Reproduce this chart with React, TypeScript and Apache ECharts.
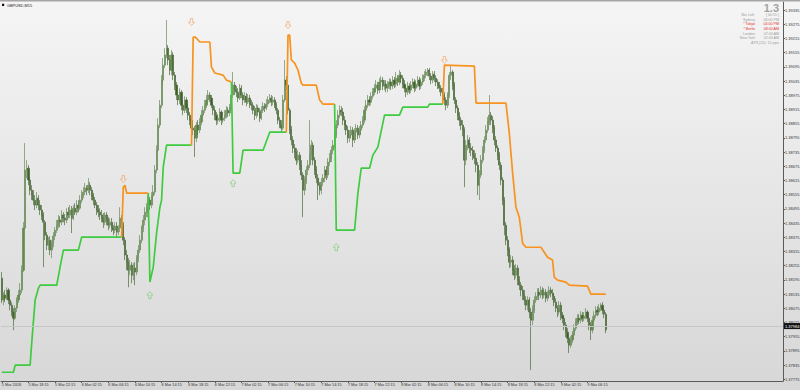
import React, { useEffect, useRef } from "react";
import * as echarts from "echarts";

// ---------- data ----------
const symbolTitle = "GBPUSD,M15";
const firstOpen = 1.38202;

const closes = [
  1.38110, 1.38131, 1.38118, 1.38152, 1.38110, 1.38088,
  1.38059, 1.38033, 1.38076, 1.38110, 1.38131, 1.38152,
  1.38236, 1.38414, 1.38659, 1.38667, 1.38617, 1.38574, 1.38553, 1.38532, 1.38511, 1.38540, 1.38511, 1.38490, 1.38469, 1.38439,
  1.38384, 1.38342, 1.38363, 1.38321, 1.38350, 1.38380,
  1.38405, 1.38426, 1.38448, 1.38439, 1.38469, 1.38456, 1.38448, 1.38481,
  1.38469, 1.38490, 1.38456, 1.38498, 1.38481, 1.38511, 1.38498, 1.38532,
  1.38553, 1.38566, 1.38583, 1.38574, 1.38595, 1.38574, 1.38549,
  1.38532, 1.38511, 1.38490, 1.38481, 1.38469,
  1.38456, 1.38439, 1.38469, 1.38448, 1.38426, 1.38439, 1.38414,
  1.38405, 1.38422, 1.38397, 1.38414, 1.38456, 1.38426,
  1.38363, 1.38300, 1.38270, 1.38236, 1.38257, 1.38215, 1.38245, 1.38228, 1.38287,
  1.38321, 1.38363, 1.38414, 1.38448, 1.38481, 1.38498,
  1.38532, 1.38511, 1.38549, 1.38566,
  1.38659, 1.38743, 1.38849, 1.38933,
  1.39039, 1.39102, 1.39145, 1.39174,
  1.39124, 1.39081, 1.39145, 1.39060,
  1.39018, 1.38976, 1.38955, 1.38988, 1.38933, 1.38912, 1.38955, 1.38921,
  1.38891, 1.38870, 1.38836, 1.38828, 1.38794, 1.38849, 1.38828, 1.38862,
  1.38891, 1.38912, 1.38933, 1.38955, 1.38976, 1.38963, 1.38933, 1.38912,
  1.38891, 1.38870, 1.38878, 1.38904, 1.38870, 1.38878, 1.38891, 1.38912, 1.38900, 1.38921,
  1.38976, 1.39018, 1.38997,
  1.38988, 1.38963, 1.39005, 1.38976, 1.38955, 1.38971, 1.38946, 1.38963, 1.38938,
  1.38933, 1.38912, 1.38891, 1.38921, 1.38904, 1.38878, 1.38912, 1.38929, 1.38921, 1.38938, 1.38955, 1.38963, 1.38946, 1.38955, 1.38933, 1.38912,
  1.38870, 1.38849, 1.38836,
  1.38955, 1.39039, 1.39018,
  1.38912, 1.38828, 1.38786, 1.38752,
  1.38735, 1.38701, 1.38722, 1.38680, 1.38638, 1.38574,
  1.38617, 1.38659, 1.38680, 1.38722, 1.38764,
  1.38701, 1.38659, 1.38625, 1.38595, 1.38574, 1.38608,
  1.38625, 1.38659, 1.38638, 1.38693, 1.38709, 1.38743, 1.38764,
  1.38807, 1.38849, 1.38891, 1.38912,
  1.38904, 1.38870, 1.38849, 1.38828, 1.38794, 1.38807, 1.38828, 1.38786,
  1.38819, 1.38836, 1.38807, 1.38828, 1.38849, 1.38870,
  1.38912, 1.38933, 1.38955, 1.38946, 1.38971, 1.38988,
  1.39005, 1.39018, 1.38997, 1.39031, 1.39039, 1.39014, 1.39022, 1.39005,
  1.39018, 1.39031, 1.39014, 1.39039, 1.39022, 1.39047, 1.39031, 1.39060, 1.39047, 1.39022,
  1.39005, 1.38988, 1.39014, 1.38997, 1.39018, 1.39031, 1.39005, 1.39022, 1.39039, 1.39014,
  1.39031, 1.39047, 1.39060, 1.39073, 1.39081, 1.39056, 1.39039, 1.39064, 1.39047, 1.39031, 1.39018, 1.39005,
  1.38988, 1.38976, 1.38955,
  1.38933, 1.38976, 1.39060,
  1.39073, 1.39018,
  1.38955, 1.38921, 1.38891, 1.38870, 1.38849, 1.38828,
  1.38701, 1.38764, 1.38786, 1.38752, 1.38743, 1.38722, 1.38709, 1.38680,
  1.38595, 1.38638,
  1.38701, 1.38743, 1.38786, 1.38828, 1.38862, 1.38891, 1.38870, 1.38836,
  1.38786, 1.38752, 1.38722, 1.38680,
  1.38617, 1.38532, 1.38426,
  1.38363, 1.38321, 1.38270,
  1.38279, 1.38236, 1.38215, 1.38245, 1.38194, 1.38173,
  1.38152, 1.38131, 1.38110, 1.38088, 1.38110, 1.38059,
  1.38025, 1.38067,
  1.38110, 1.38126, 1.38143, 1.38131,
  1.38152, 1.38131, 1.38143, 1.38118, 1.38131, 1.38152, 1.38139, 1.38126,
  1.38101, 1.38076, 1.38059, 1.38088, 1.38046, 1.38033,
  1.38004, 1.37974, 1.37949, 1.37919, 1.37941, 1.37962,
  1.37991, 1.38017, 1.38033, 1.38025, 1.38046, 1.38033,
  1.38042, 1.38059, 1.38033, 1.38004, 1.37983, 1.38025,
  1.38046, 1.38067, 1.38059, 1.38076, 1.38088, 1.38067, 1.38050,
  1.37984,
];

const highs = [
  1.38228, 1.38143, 1.38152, 1.38164, 1.38160, 1.38122,
  1.38101, 1.38076, 1.38088, 1.38122, 1.38152, 1.38181,
  1.38257, 1.38439, 1.38773, 1.38701, 1.38680, 1.38629, 1.38595, 1.38574, 1.38553, 1.38566, 1.38553, 1.38532, 1.38511, 1.38481,
  1.38448, 1.38397, 1.38376, 1.38380, 1.38363, 1.38397,
  1.38418, 1.38448, 1.38469, 1.38464, 1.38490, 1.38481, 1.38473, 1.38498,
  1.38502, 1.38511, 1.38507, 1.38511, 1.38519, 1.38532, 1.38532, 1.38553,
  1.38574, 1.38587, 1.38604, 1.38595, 1.38625, 1.38608, 1.38587,
  1.38562, 1.38545, 1.38524, 1.38511, 1.38498,
  1.38490, 1.38477, 1.38481, 1.38481, 1.38460, 1.38456, 1.38456,
  1.38426, 1.38439, 1.38439, 1.38426, 1.38502, 1.38469,
  1.38439, 1.38376, 1.38321, 1.38287, 1.38279, 1.38270, 1.38266, 1.38270, 1.38300,
  1.38342, 1.38384, 1.38426, 1.38469, 1.38502, 1.38519,
  1.38553, 1.38545, 1.38566, 1.38595,
  1.38680, 1.38764, 1.38878, 1.38955,
  1.39060, 1.39132, 1.39174, 1.39293,
  1.39187, 1.39145, 1.39166, 1.39157,
  1.39073, 1.39031, 1.38997, 1.39005, 1.38997, 1.38955, 1.38971, 1.38967,
  1.38938, 1.38904, 1.38883, 1.38853, 1.38845, 1.38862, 1.38870, 1.38878,
  1.38912, 1.38929, 1.38955, 1.38976, 1.38997, 1.38988, 1.38976, 1.38946,
  1.38929, 1.38904, 1.38895, 1.38921, 1.38912, 1.38895, 1.38912, 1.38929, 1.38925, 1.38938,
  1.38997, 1.39073, 1.39031,
  1.39014, 1.39005, 1.39022, 1.39018, 1.38988, 1.38988, 1.38984, 1.38980, 1.38976,
  1.38955, 1.38946, 1.38929, 1.38938, 1.38933, 1.38921, 1.38929, 1.38946, 1.38942, 1.38959, 1.38971, 1.38980, 1.38976, 1.38971, 1.38967, 1.38946,
  1.38921, 1.38883, 1.38870,
  1.38976, 1.39124, 1.39056,
  1.39031, 1.38921, 1.38845, 1.38802,
  1.38769, 1.38752, 1.38743, 1.38735, 1.38701, 1.38650,
  1.38633, 1.38676, 1.38701, 1.38870, 1.38786,
  1.38777, 1.38714, 1.38676, 1.38642, 1.38608, 1.38625,
  1.38642, 1.38676, 1.38676, 1.38709, 1.38731, 1.38760, 1.38786,
  1.38828, 1.38870, 1.38912, 1.38933,
  1.38929, 1.38921, 1.38887, 1.38866, 1.38845, 1.38828, 1.38845, 1.38840,
  1.38836, 1.38853, 1.38849, 1.38845, 1.38866, 1.38887,
  1.38929, 1.38955, 1.38976, 1.38971, 1.38988, 1.39005,
  1.39022, 1.39039, 1.39031, 1.39047, 1.39056, 1.39052, 1.39039, 1.39039,
  1.39035, 1.39047, 1.39043, 1.39056, 1.39052, 1.39073, 1.39060, 1.39081, 1.39073, 1.39060,
  1.39039, 1.39018, 1.39031, 1.39026, 1.39035, 1.39047, 1.39043, 1.39039, 1.39056, 1.39052,
  1.39047, 1.39064, 1.39077, 1.39086, 1.39090, 1.39090, 1.39069, 1.39077, 1.39077, 1.39060, 1.39043, 1.39031,
  1.39018, 1.39005, 1.38988,
  1.38967, 1.38988, 1.39073,
  1.39102, 1.39081,
  1.39031, 1.38967, 1.38933, 1.38904, 1.38883, 1.38870,
  1.38840, 1.38786, 1.38807, 1.38798, 1.38773, 1.38760, 1.38743, 1.38731,
  1.38693, 1.38659,
  1.38722, 1.38760, 1.38802, 1.38849, 1.38883, 1.38976, 1.38904, 1.38887,
  1.38849, 1.38802, 1.38764, 1.38735,
  1.38693, 1.38629, 1.38545,
  1.38439, 1.38380, 1.38333,
  1.38300, 1.38295, 1.38257, 1.38262, 1.38257, 1.38211,
  1.38186, 1.38169, 1.38152, 1.38126, 1.38126, 1.38122,
  1.38076, 1.38088,
  1.38126, 1.38143, 1.38160, 1.38160,
  1.38169, 1.38164, 1.38160, 1.38156, 1.38148, 1.38169, 1.38164, 1.38156,
  1.38139, 1.38118, 1.38088, 1.38105, 1.38101, 1.38059,
  1.38046, 1.38017, 1.37991, 1.37962, 1.37957, 1.37979,
  1.38008, 1.38033, 1.38050, 1.38050, 1.38063, 1.38059,
  1.38059, 1.38076, 1.38067, 1.38046, 1.38017, 1.38042,
  1.38063, 1.38084, 1.38084, 1.38093, 1.38097, 1.38101, 1.38080,
  1.38059,
];

const lows = [
  1.38097, 1.38088, 1.38101, 1.38110, 1.38093, 1.38067,
  1.38042, 1.37983, 1.38025, 1.38059, 1.38097, 1.38118,
  1.38139, 1.38228, 1.38405, 1.38625, 1.38595, 1.38553, 1.38532, 1.38511, 1.38490, 1.38498, 1.38490, 1.38469, 1.38448, 1.38249,
  1.38363, 1.38321, 1.38321, 1.38300, 1.38287, 1.38333,
  1.38363, 1.38393, 1.38414, 1.38418, 1.38426, 1.38439, 1.38426, 1.38435,
  1.38456, 1.38456, 1.38393, 1.38448, 1.38469, 1.38469, 1.38481, 1.38490,
  1.38519, 1.38540, 1.38553, 1.38553, 1.38562, 1.38553, 1.38532,
  1.38511, 1.38498, 1.38469, 1.38460, 1.38448,
  1.38439, 1.38414, 1.38426, 1.38426, 1.38405, 1.38414, 1.38397,
  1.38384, 1.38393, 1.38376, 1.38384, 1.38397, 1.38405,
  1.38342, 1.38279, 1.38236, 1.38164, 1.38215, 1.38181, 1.38194, 1.38173, 1.38215,
  1.38270, 1.38308, 1.38350, 1.38397, 1.38426, 1.38460,
  1.38460, 1.38490, 1.38498, 1.38532,
  1.38553, 1.38646, 1.38731, 1.38836,
  1.38921, 1.39018, 1.39090, 1.39132,
  1.39102, 1.39060, 1.39060, 1.39039,
  1.38997, 1.38955, 1.38933, 1.38938, 1.38912, 1.38891, 1.38900, 1.38900,
  1.38870, 1.38849, 1.38819, 1.38807, 1.38714, 1.38777, 1.38807, 1.38815,
  1.38849, 1.38878, 1.38900, 1.38921, 1.38938, 1.38946, 1.38921, 1.38891,
  1.38870, 1.38849, 1.38853, 1.38862, 1.38849, 1.38857, 1.38866, 1.38878, 1.38883, 1.38887,
  1.38912, 1.38963, 1.38976,
  1.38967, 1.38946, 1.38955, 1.38963, 1.38933, 1.38942, 1.38929, 1.38938, 1.38921,
  1.38912, 1.38895, 1.38870, 1.38878, 1.38887, 1.38862, 1.38870, 1.38900, 1.38904, 1.38912, 1.38925, 1.38942, 1.38929, 1.38933, 1.38921, 1.38895,
  1.38853, 1.38836, 1.38819,
  1.38828, 1.38946, 1.38997,
  1.38895, 1.38811, 1.38764, 1.38731,
  1.38709, 1.38680, 1.38688, 1.38659, 1.38617, 1.38460,
  1.38553, 1.38600, 1.38638, 1.38667, 1.38701,
  1.38680, 1.38638, 1.38604, 1.38532, 1.38553, 1.38557,
  1.38591, 1.38608, 1.38617, 1.38625, 1.38676, 1.38693, 1.38726,
  1.38752, 1.38794, 1.38836, 1.38878,
  1.38887, 1.38849, 1.38828, 1.38807, 1.38773, 1.38777, 1.38794, 1.38756,
  1.38773, 1.38802, 1.38790, 1.38794, 1.38811, 1.38836,
  1.38857, 1.38900, 1.38921, 1.38929, 1.38933, 1.38959,
  1.38976, 1.38988, 1.38980, 1.38984, 1.39014, 1.38997, 1.38997, 1.38988,
  1.38988, 1.39001, 1.38997, 1.39001, 1.39005, 1.39009, 1.39014, 1.39018, 1.39026, 1.39005,
  1.38988, 1.38967, 1.38976, 1.38980, 1.38984, 1.39005, 1.38988, 1.38993, 1.39009, 1.38997,
  1.39001, 1.39018, 1.39035, 1.39047, 1.39056, 1.39039, 1.39022, 1.39026, 1.39031, 1.39014, 1.39001, 1.38988,
  1.38971, 1.38955, 1.38933,
  1.38912, 1.38921, 1.38963,
  1.39039, 1.38997,
  1.38938, 1.38900, 1.38870, 1.38845, 1.38828, 1.38802,
  1.38587, 1.38680, 1.38743, 1.38731, 1.38718, 1.38701, 1.38684, 1.38650,
  1.38553, 1.38532,
  1.38625, 1.38688, 1.38731, 1.38773, 1.38815, 1.38849, 1.38849, 1.38815,
  1.38764, 1.38735, 1.38701, 1.38659,
  1.38595, 1.38511, 1.38384,
  1.38342, 1.38295, 1.38245,
  1.38249, 1.38215, 1.38194, 1.38202, 1.38173, 1.38152,
  1.38126, 1.38110, 1.38088, 1.38067, 1.38067, 1.38033,
  1.37814, 1.38004,
  1.38055, 1.38097, 1.38110, 1.38110,
  1.38118, 1.38114, 1.38118, 1.38101, 1.38105, 1.38118, 1.38122, 1.38110,
  1.38084, 1.38059, 1.38038, 1.38046, 1.38025, 1.38012,
  1.37983, 1.37953, 1.37928, 1.37886, 1.37907, 1.37928,
  1.37949, 1.37979, 1.38004, 1.38008, 1.38012, 1.38017,
  1.38021, 1.38029, 1.38017, 1.37983, 1.37941, 1.37970,
  1.38012, 1.38033, 1.38042, 1.38046, 1.38063, 1.38050, 1.38033,
  1.37970,
];

// indicator lines: vertices [bar index, price]
const greenSegments = [
  [[0, 1.37805], [7, 1.37805], [8, 1.37835], [17, 1.37835], [18, 1.37932], [20, 1.38110], [22, 1.38160], [23, 1.38173], [33, 1.38173], [35, 1.38249], [37, 1.38321], [46, 1.38321], [48, 1.38376], [72, 1.38376]],
  [[88, 1.38562], [89, 1.38186], [91, 1.38249], [93, 1.38393], [95, 1.38502], [96, 1.38532], [97, 1.38671], [99, 1.38764], [114, 1.38764]],
  [[138, 1.39031], [139, 1.38646], [143, 1.38646], [145, 1.38743], [157, 1.38743], [161, 1.38819], [171, 1.38819]],
  [[200, 1.38938], [201, 1.38405], [212, 1.38405], [214, 1.38562], [216, 1.38667], [221, 1.38667], [223, 1.38722], [226, 1.38756], [230, 1.38891], [239, 1.38891], [241, 1.38925], [256, 1.38925], [257, 1.38938], [265, 1.38938]],
];
const orangeSegments = [
  [[72, 1.38376], [73, 1.38587], [74, 1.38595], [75, 1.38562], [88, 1.38562]],
  [[114, 1.38764], [115, 1.39221], [116, 1.39221], [117, 1.39216], [119, 1.39200], [125, 1.39200], [126, 1.39094], [128, 1.39069], [133, 1.39060], [135, 1.39039], [138, 1.39031]],
  [[171, 1.38819], [172, 1.39229], [173, 1.39229], [174, 1.39124], [176, 1.39111], [178, 1.39081], [180, 1.39026], [181, 1.39018], [189, 1.39018], [191, 1.38955], [193, 1.38938], [200, 1.38938]],
  [[265, 1.38938], [266, 1.39102], [284, 1.39098], [285, 1.38942], [303, 1.38942], [305, 1.38815], [307, 1.38646], [309, 1.38502], [311, 1.38460], [313, 1.38350], [315, 1.38333], [324, 1.38333], [326, 1.38312], [328, 1.38291], [331, 1.38279], [332, 1.38207], [334, 1.38194], [339, 1.38186], [341, 1.38173], [352, 1.38169], [354, 1.38135], [363, 1.38135]],
];

const downArrows = [[73, 1.38621], [114, 1.39284], [172, 1.39271], [266, 1.39124]];
const upArrows = [[89, 1.38131], [139, 1.38604], [201, 1.38333]];

const xTickLabels = [
  "5 Mar 2018", "5 Mar 18:15", "5 Mar 22:15", "6 Mar 02:15", "6 Mar 06:15", "6 Mar 10:15",
  "6 Mar 14:15", "6 Mar 18:15", "6 Mar 22:15", "7 Mar 02:15", "7 Mar 06:15", "7 Mar 10:15",
  "7 Mar 14:15", "7 Mar 18:15", "7 Mar 22:15", "8 Mar 02:15", "8 Mar 06:15", "8 Mar 10:15",
  "8 Mar 14:15", "8 Mar 18:15", "8 Mar 22:15", "9 Mar 02:15", "9 Mar 06:15",
];
const barsPerLabel = 16;
const slotCount = 470;

const yTicks = [
  1.39335, 1.39275, 1.39215, 1.39155, 1.39095, 1.39035, 1.38975, 1.38915, 1.38855,
  1.38795, 1.38735, 1.38675, 1.38615, 1.38555, 1.38495, 1.38435, 1.38375, 1.38315,
  1.38255, 1.38195, 1.38135, 1.38075, 1.38015, 1.37955, 1.37895, 1.37835, 1.37775,
];

const spreadText = "1.3";
const infoLabels = ["Bar Left:", "Sydney", "* Tokyo", "* Berlin", "London", "New York"];
const infoValues = ["[ 00:55 ]", "06:00 PM", "04:00 PM", "08:00 AM", "07:00 AM", "02:00 AM"];
const infoMarked = [false, false, true, true, false, false];
const atrText = "ATR (20): 15 pips";

// ---------- component ----------
const FONT = "'Liberation Sans', Arial, sans-serif";

export default function App() {
  const ref = useRef<HTMLDivElement | null>(null);

  useEffect(() => {
    if (!ref.current) return;
    const chart = echarts.init(ref.current, undefined, { renderer: "svg" });

    const n = closes.length;
    const candles = closes.map((c, i) => {
      const o = i === 0 ? firstOpen : closes[i - 1];
      const l = Math.min(lows[i] ?? c, o, c);
      const h = Math.max(highs[i] ?? c, o, c);
      return [o, c, l, h];
    });
    const lastPrice = closes[n - 1];
    const categories = Array.from({ length: slotCount }, (_, i) => String(i));
    const isLabelIdx = (i: number) => i % barsPerLabel === 0 && i / barsPerLabel < xTickLabels.length;

    const gray = "#9c9c9c";
    const red = "#e0302c";
    const graphics: any[] = [
      { type: "rect", shape: { x: 0, y: 0, width: 800, height: 1.5 }, style: { fill: "#a6a6a6" }, silent: true, z: 100 },
      { type: "rect", shape: { x: 2, y: 3.8, width: 2.2, height: 2.2 }, style: { fill: "#111" }, silent: true, z: 100 },
      { type: "text", x: 7, y: 5, silent: true, z: 100, style: { text: symbolTitle, fontSize: 3.9, fontFamily: FONT, fill: "#222", verticalAlign: "middle" } },
      { type: "text", x: 779, y: 7.5, silent: true, z: 100, style: { text: spreadText, fontSize: 11, fontWeight: "bold", fontFamily: FONT, fill: "#a3a3a3", align: "right", verticalAlign: "middle" } },
    ];
    const rowY = [15, 19.6, 24.2, 28.8, 33.5, 38.2];
    infoLabels.forEach((lab, i) => {
      const col = infoMarked[i] ? red : gray;
      graphics.push({ type: "text", x: 755, y: rowY[i], silent: true, z: 100, style: { text: lab, fontSize: 3.6, fontFamily: FONT, fill: col, align: "right", verticalAlign: "middle" } });
      graphics.push({ type: "text", x: 779, y: rowY[i], silent: true, z: 100, style: { text: infoValues[i], fontSize: 3.6, fontFamily: FONT, fill: col, align: "right", verticalAlign: "middle" } });
    });
    graphics.push({ type: "text", x: 779, y: 43.2, silent: true, z: 100, style: { text: atrText, fontSize: 3.6, fontFamily: FONT, fill: gray, align: "right", verticalAlign: "middle" } });

    const lineSeries = (segs: number[][][], color: string) =>
      segs.map((seg) => ({
        type: "line",
        data: seg,
        symbol: "none",
        silent: true,
        z: 4,
        lineStyle: { color, width: 1.7 },
        emphasis: { disabled: true },
      }));

    const option: any = {
      animation: false,
      grid: { left: 1, right: 17, top: 2, bottom: 9, containLabel: false, outerBoundsMode: "none" },
      xAxis: {
        type: "category",
        data: categories,
        boundaryGap: true,
        axisLine: { onZero: false, lineStyle: { color: "#5a5a5a", width: 1 } },
        axisTick: { show: true, alignWithLabel: true, interval: (i: number) => isLabelIdx(i), length: 2, lineStyle: { color: "#5a5a5a" } },
        axisLabel: {
          interval: (i: number) => isLabelIdx(i),
          formatter: (_v: string, i: number) => (isLabelIdx(i) ? xTickLabels[i / barsPerLabel] : ""),
          align: "left",
          fontSize: 3.8,
          fontFamily: FONT,
          color: "#333",
          margin: 1.5,
        },
        splitLine: { show: false },
      },
      yAxis: {
        type: "value",
        position: "right",
        min: 1.37768,
        max: 1.39369,
        splitLine: { show: false },
        axisLine: { show: true, lineStyle: { color: "#5a5a5a", width: 1 } },
        axisTick: { show: true, length: 2, customValues: yTicks, lineStyle: { color: "#5a5a5a" } },
        axisLabel: {
          customValues: yTicks,
          formatter: (v: number) => v.toFixed(5),
          fontSize: 4,
          fontFamily: FONT,
          color: "#333",
          margin: 2,
        },
      },
      graphic: graphics,
      series: [
        {
          type: "candlestick",
          data: candles,
          barWidth: 1.6,
          silent: true,
          z: 3,
          itemStyle: {
            color: "#5f8f45",
            color0: "#3f5e2b",
            borderColor: "#6c8a5c",
            borderColor0: "#4c6a3a",
            borderWidth: 0.7,
          },
          emphasis: { disabled: true },
          markLine: {
            silent: true,
            animation: false,
            symbol: ["none", "none"],
            data: [{ yAxis: lastPrice }],
            lineStyle: { color: "#c6c6c6", width: 1, type: "solid" },
            label: {
              show: true,
              position: "end",
              distance: 1,
              formatter: () => lastPrice.toFixed(5),
              color: "#fff",
              backgroundColor: "#111",
              fontSize: 4,
              fontFamily: FONT,
              padding: [1, 2, 1, 1],
            },
            emphasis: { disabled: true },
          },
        },
        ...lineSeries(greenSegments, "#3fcb3f"),
        ...lineSeries(orangeSegments, "#f7931e"),
        {
          type: "scatter",
          data: downArrows,
          symbol: "path://M3,0 L7,0 L7,5 L10,5 L5,10 L0,5 L3,5 Z",
          symbolSize: [6, 7],
          silent: true,
          z: 5,
          itemStyle: { color: "rgba(255,255,255,0)", borderColor: "#f2a060", borderWidth: 0.8 },
        },
        {
          type: "scatter",
          data: upArrows,
          symbol: "path://M5,0 L10,5 L7,5 L7,10 L3,10 L3,5 L0,5 Z",
          symbolSize: [6, 7],
          silent: true,
          z: 5,
          itemStyle: { color: "rgba(255,255,255,0)", borderColor: "#74cc74", borderWidth: 0.8 },
        },
      ],
    };

    chart.setOption(option);
    return () => chart.dispose();
  }, []);

  return (
    <div
      ref={ref}
      style={{
        position: "absolute",
        left: 0,
        top: 0,
        width: 800,
        height: 390,
        background: "linear-gradient(#f5f5f5, #d7d7d7)",
      }}
    />
  );
}
